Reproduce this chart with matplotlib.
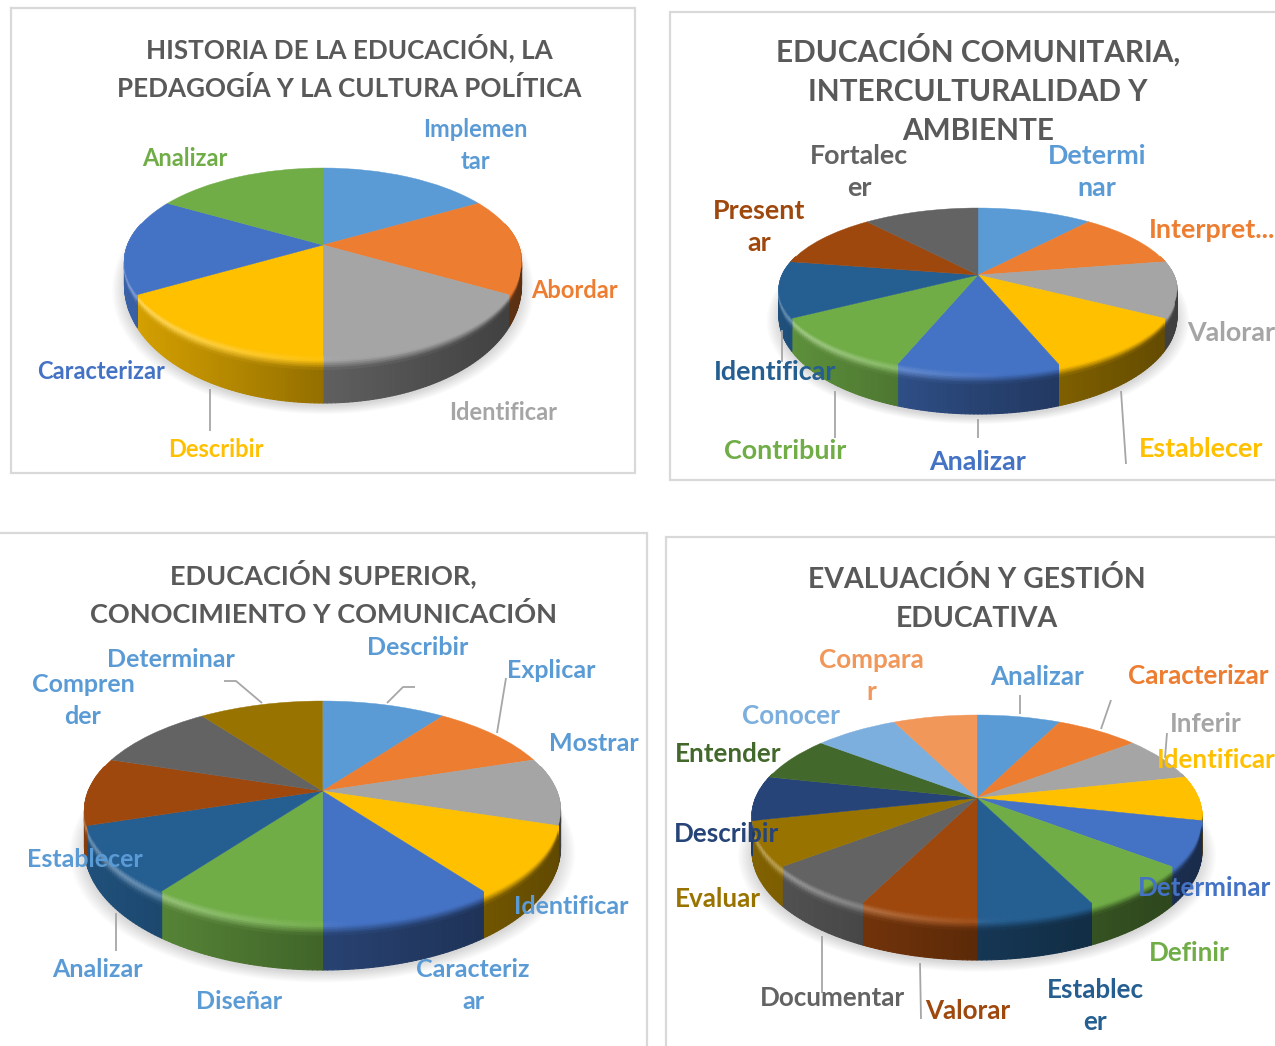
import numpy as np
import matplotlib
matplotlib.use("Agg")
import matplotlib.pyplot as plt
from matplotlib.transforms import Transform
from matplotlib.collections import PolyCollection
from matplotlib.colors import to_rgb

W, H = 1275, 1046
plt.rcParams['font.family'] = ['Lato', 'DejaVu Sans']

# ---- data -------------------------------------------------------------
titles_1 = ["HISTORIA DE LA EDUCACIÓN, LA", "PEDAGOGÍA Y LA CULTURA POLÍTICA"]
titles_2 = ["EDUCACIÓN COMUNITARIA,", "INTERCULTURALIDAD Y", "AMBIENTE"]
titles_3 = ["EDUCACIÓN SUPERIOR,", "CONOCIMIENTO Y COMUNICACIÓN"]
titles_4 = ["EVALUACIÓN Y GESTIÓN", "EDUCATIVA"]

labels_1 = ["Implemen\ntar", "Abordar", "Identificar", "Describir", "Caracterizar", "Analizar"]
values_1 = [1, 1, 1, 1, 1, 1]
labels_2 = ["Determi\nnar", "Interpret...", "Valorar", "Establecer", "Analizar", "Contribuir",
            "Identificar", "Present\nar", "Fortalec\ner"]
values_2 = [1, 1, 1, 1, 1, 1, 1, 1, 1]
labels_3 = ["Describir", "Explicar", "Mostrar", "Identificar", "Caracteriz\nar", "Diseñar",
            "Analizar", "Establecer", "Compren\nder", "Determinar"]
values_3 = [1, 1, 1, 1, 1, 1, 1, 1, 1, 1]
labels_4 = ["Analizar", "Caracterizar", "Inferir", "Identificar", "Determinar", "Definir",
            "Establec\ner", "Valorar", "Documentar", "Evaluar", "Describir", "Entender",
            "Conocer", "Compara\nr"]
values_4 = [1, 1, 1, 1, 1, 1, 1, 1, 1, 1, 1, 1, 1, 1]

palette = ["#5B9BD5", "#ED7D31", "#A5A5A5", "#FFC000", "#4472C4", "#70AD47", "#255E91",
           "#9E480E", "#636363", "#997300", "#264478", "#43682B", "#7CAFDD", "#F1975A"]

# ---- layout (pixels) ---------------------------------------------------
geom_1 = dict(cx=323, cy=245, top=168, bot=355, rx=198.5, d=48, slope=-30)
geom_2 = dict(cx=978, cy=275, top=208, bot=371, rx=199, d=43, slope=-20)
geom_3 = dict(cx=322.5, cy=791, top=701, bot=920, rx=238, d=50, slope=-16)
geom_4 = dict(cx=977, cy=798, top=715, bot=917, rx=225, d=43, slope=-10)

pos_1 = [(475, 129), (574, 290), (503, 412), (216, 449), (101, 371), (185, 158)]
pos_2 = [(1097, 156), (1212, 230), (1231, 333), (1201, 449), (978, 462), (785, 451),
         (775, 372), (759, 211), (859, 156)]
pos_3 = [(418, 647), (551, 670), (594, 743), (571, 906), (473, 969), (239, 1001),
         (97, 969), (85, 859), (83, 684), (171, 659)]
pos_4 = [(1037, 677), (1198, 676), (1206, 724), (1216, 760), (1204, 888), (1189, 953),
         (1095, 990), (968, 1011), (832, 998), (718, 899), (727, 834), (728, 754),
         (791, 716), (871, 660)]

leaders_1 = [[(210, 389), (210, 431)]]
leaders_2 = [[(978, 419), (978, 438)], [(835, 391), (835, 438)], [(1121, 391), (1126, 464)],
             [(782, 330), (782, 362)]]
leaders_3 = [[(387, 703), (403, 687), (415, 687)], [(506, 678), (497, 733)],
             [(116, 913), (116, 951)], [(224, 681), (236, 681), (262, 703)]]
leaders_4 = [[(1020, 695), (1020, 714)], [(1111, 700), (1101, 729)], [(1167, 733), (1165, 758)],
             [(822, 936), (822, 993)], [(920, 963), (921, 1019)]]

panels = [
    dict(values=values_1, labels=labels_1, pos=pos_1, geom=geom_1, leaders=leaders_1,
         title=titles_1, tx=349, ty=58, fs=17, tfs=18.75,
         colors=palette[:6], label_colors=palette[:6]),
    dict(values=values_2, labels=labels_2, pos=pos_2, geom=geom_2, leaders=leaders_2,
         title=titles_2, tx=978, ty=62, fs=19.4, tfs=21.4,
         colors=palette[:9], label_colors=palette[:9]),
    dict(values=values_3, labels=labels_3, pos=pos_3, geom=geom_3, leaders=leaders_3,
         title=titles_3, tx=323, ty=584, fs=18, tfs=19.5,
         colors=palette[:10], label_colors=["#5B9BD5"] * 10),
    dict(values=values_4, labels=labels_4, pos=pos_4, geom=geom_4, leaders=leaders_4,
         title=titles_4, tx=977, ty=588, fs=18.7, tfs=20.4,
         colors=palette[:14], label_colors=palette[:14]),
]

frames = [[(11, 8), (635, 8), (635, 473), (11, 473), (11, 8)],
          [(1280, 12), (670, 12), (670, 480), (1280, 480)],
          [(-5, 533), (647, 533), (647, 1050)],
          [(1280, 537), (666, 537), (666, 1050)]]


class DiscProjection(Transform):
    """Maps the unit disc to a perspective-tilted disc in pixel coordinates."""
    input_dims = 2
    output_dims = 2
    is_separable = False
    has_inverse = False

    def __init__(self, cx, cy, top, bot, rx):
        super().__init__()
        T, B = cy - top, bot - cy
        self.k = (B - T) / (B + T)
        self.a = T * (1 + self.k)
        self.b = rx * np.sqrt(1 - self.k ** 2)
        self.cx, self.cy = cx, cy

    def transform_non_affine(self, values):
        v = np.asarray(values, float)
        den = 1 + self.k * v[:, 1]
        return np.column_stack([self.cx + self.b * v[:, 0] / den,
                                self.cy - self.a * v[:, 1] / den])


def shade(xf):
    return np.interp(xf, [-1, 0, 1], [0.85, 0.58, 0.38])


fig = plt.figure(figsize=(W / 100, H / 100), dpi=100)
ax = fig.add_axes([0, 0, 1, 1])


def draw_pie(p):
    g = p['geom']
    proj = DiscProjection(g['cx'], g['cy'], g['top'], g['bot'], g['rx'])

    def depth(v):
        return np.maximum(g['d'] + g['slope'] * (1 + v), 2)

    wedges, _ = ax.pie(p['values'], colors=p['colors'], startangle=90, counterclock=False,
                       radius=1, center=(0, 0))
    for w in wedges:
        w.set_transform(proj + ax.transData)
        w.set_zorder(3)
        w.set_edgecolor(w.get_facecolor())
        w.set_linewidth(0.3)

    # soft shadow under the disc
    th = np.linspace(0, 2 * np.pi, 240)
    for r in np.linspace(1.06, 1.0, 10):
        xy = proj.transform_non_affine(np.column_stack([r * np.cos(th), r * np.sin(th)]))
        ax.fill(xy[:, 0], xy[:, 1] + depth(np.sin(th)) + 3, color='black', alpha=0.014, lw=0, zorder=1)

    rim_q, rim_c = [], []
    bevel_z = np.linspace(0, 1, 9)
    for w, col in zip(wedges, p['colors']):
        c = np.array(to_rgb(col))
        n = max(2, int((w.theta2 - w.theta1) / 1.0))
        ang = np.radians(np.linspace(w.theta1, w.theta2, n + 1))
        for a0, a1 in zip(ang[:-1], ang[1:]):
            am = (a0 + a1) / 2
            vm = np.sin(am)
            if vm > 0.25:
                continue
            e = np.array([[np.cos(a0), np.sin(a0)], [np.cos(a1), np.sin(a1)]])
            top_e = proj.transform_non_affine(e)
            dep = depth(e[:, 1])
            bev = 0.3 * dep
            xf = (top_e[:, 0].mean() - g['cx']) / g['rx']
            edge = c * shade(xf)
            h = 0.34 * np.clip((0.15 - xf) / 1.0, 0, 1)
            light = c + (1 - c) * h
            # lower, flat part of the rim
            low_a = top_e + np.column_stack([0 * dep, bev])
            low_b = top_e + np.column_stack([0 * dep, dep])
            rim_q.append([low_a[0], low_a[1], low_b[1], low_b[0]])
            rim_c.append(edge)
            # rounded shoulder between the disc and the rim
            for z0, z1 in zip(bevel_z[:-1], bevel_z[1:]):
                t = (z0 + z1) / 2
                if t < 0.4:
                    cc = c + (light - c) * (t / 0.4)
                else:
                    cc = light + (edge - light) * ((t - 0.4) / 0.6)
                pa = top_e + np.column_stack([0 * dep, z0 * bev])
                pb = top_e + np.column_stack([0 * dep, z1 * bev])
                rim_q.append([pa[0], pa[1], pb[1], pb[0]])
                rim_c.append(cc)
    ax.add_collection(PolyCollection(rim_q, facecolors=rim_c, edgecolors=rim_c, linewidths=0.8, zorder=2))

    for pts in p['leaders']:
        xs, ys = zip(*pts)
        ax.plot(xs, ys, color='#a6a6a6', lw=1.3, zorder=5, solid_capstyle='butt')

    spacing = 32
    for lab, (x, y), col in zip(p['labels'], p['pos'], p['label_colors']):
        for i, part in enumerate(lab.split("\n")):
            ax.text(x, y + 8 + i * spacing, part, color=col, fontsize=p['fs'], fontweight='bold',
                    ha='center', va='baseline', zorder=6)
    for i, part in enumerate(p['title']):
        ax.text(p['tx'], p['ty'] + i * 39, part, color='#595959', fontsize=p['tfs'], fontweight='bold',
                ha='center', va='baseline', zorder=6)


for fr in frames:
    xs, ys = zip(*fr)
    ax.plot(xs, ys, color='#d9d9d9', lw=1.6, zorder=0.5, solid_joinstyle='miter')

for p in panels:
    draw_pie(p)

ax.set_aspect('auto')
ax.set_xlim(0, W)
ax.set_ylim(H, 0)
ax.axis('off')
fig.savefig("out.png", dpi=100, facecolor='white')
